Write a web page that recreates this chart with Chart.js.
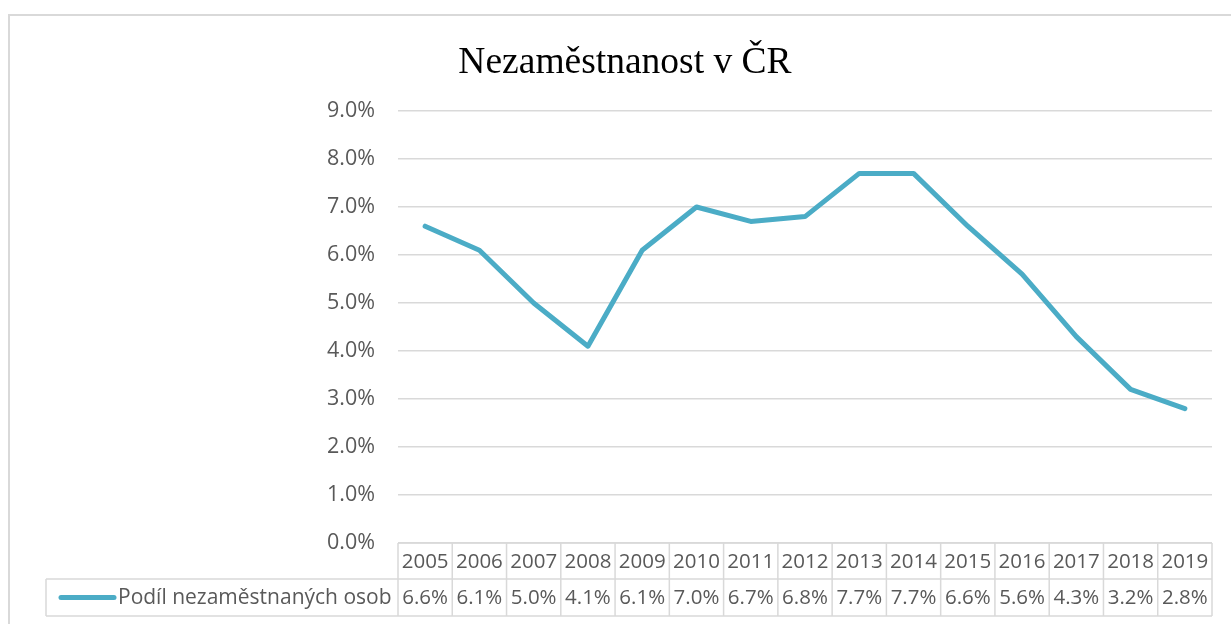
<!DOCTYPE html>
<html>
<head>
<meta charset="utf-8">
<script src="https://cdn.jsdelivr.net/npm/chart.js@4"></script>
<style>
html,body{margin:0;padding:0;background:#fff;}
canvas{display:block;}
</style>
</head>
<body>
<canvas id="c" width="1231" height="624"></canvas>
<script>
const titleText = "Nezaměstnanost v ČR";
const seriesName = "Podíl nezaměstnaných osob";
const years = ["2005","2006","2007","2008","2009","2010","2011","2012","2013","2014","2015","2016","2017","2018","2019"];
const rates = [6.6,6.1,5.0,4.1,6.1,7.0,6.7,6.8,7.7,7.7,6.6,5.6,4.3,3.2,2.8];
const yTicks = [0,1,2,3,4,5,6,7,8,9];

const LINE = "#4BACC6";
const GRID = "#d9d9d9";
const TXT = "#595959";
const FONT = "'Open Sans', sans-serif";

const extras = {
  id: "extras",
  afterDraw(chart) {
    const ctx = chart.ctx;
    const ca = chart.chartArea;
    const xs = chart.scales.x;
    const n = years.length;
    const colW = (xs.right - xs.left) / n;
    const top = ca.bottom, mid = ca.bottom + 36, bot = ca.bottom + 73;
    const legL = 46;
    ctx.save();
    // outer border
    ctx.strokeStyle = GRID; ctx.lineWidth = 2;
    ctx.strokeRect(9, 15, 1260, 660);
    // title
    ctx.fillStyle = "#000";
    ctx.font = "37.5px 'Liberation Serif', 'Times New Roman', serif";
    ctx.textAlign = "center"; ctx.textBaseline = "alphabetic";
    ctx.fillText(titleText, 625, 73);
    // table grid
    ctx.strokeStyle = GRID; ctx.lineWidth = 1.5;
    ctx.beginPath();
    ctx.moveTo(xs.left, top); ctx.lineTo(xs.right, top);
    ctx.moveTo(legL, mid); ctx.lineTo(xs.right, mid);
    ctx.moveTo(legL, bot); ctx.lineTo(xs.right, bot);
    for (let i = 0; i <= n; i++) {
      const x = xs.left + i * colW;
      ctx.moveTo(x, top); ctx.lineTo(x, bot);
    }
    ctx.moveTo(legL, mid); ctx.lineTo(legL, bot);
    ctx.stroke();
    // table text
    ctx.fillStyle = TXT;
    ctx.font = "20.5px " + FONT;
    ctx.textAlign = "center"; ctx.textBaseline = "middle";
    for (let i = 0; i < n; i++) {
      const cx = xs.getPixelForValue(i);
      ctx.fillText(years[i], cx, (top + mid) / 2 + 1);
      ctx.fillText(rates[i].toFixed(1) + "%", cx, (mid + bot) / 2 + 1);
    }
    // legend key
    const ly = (mid + bot) / 2;
    ctx.strokeStyle = LINE; ctx.lineWidth = 5; ctx.lineCap = "round";
    ctx.beginPath(); ctx.moveTo(61, ly); ctx.lineTo(114, ly); ctx.stroke();
    ctx.textAlign = "left";
    ctx.font = "21px " + FONT;
    ctx.fillText(seriesName, 118, ly + 1);
    ctx.restore();
  }
};

new Chart(document.getElementById("c"), {
  type: "line",
  data: {
    labels: years,
    datasets: [{
      label: seriesName,
      data: rates,
      borderColor: LINE,
      backgroundColor: LINE,
      borderWidth: 5,
      borderJoinStyle: "round",
      borderCapStyle: "round",
      pointRadius: 0,
      tension: 0,
      fill: false
    }]
  },
  options: {
    responsive: false,
    devicePixelRatio: 1,
    animation: false,
    layout: { padding: { top: 111, bottom: 81, left: 0, right: 19 } },
    plugins: { legend: { display: false }, title: { display: false }, tooltip: { enabled: false } },
    scales: {
      x: { type: "category", offset: true, display: false },
      y: {
        min: 0, max: 9,
        afterFit(s) { s.width = 398; },
        afterBuildTicks(s) { s.ticks = yTicks.map(v => ({ value: v })); },
        ticks: {
          callback: v => v.toFixed(1) + "%",
          color: TXT,
          font: { family: FONT, size: 21.5 },
          padding: 23
        },
        grid: { color: GRID, lineWidth: 1.5, drawTicks: false },
        border: { display: false }
      }
    }
  },
  plugins: [extras]
});
</script>
</body>
</html>
